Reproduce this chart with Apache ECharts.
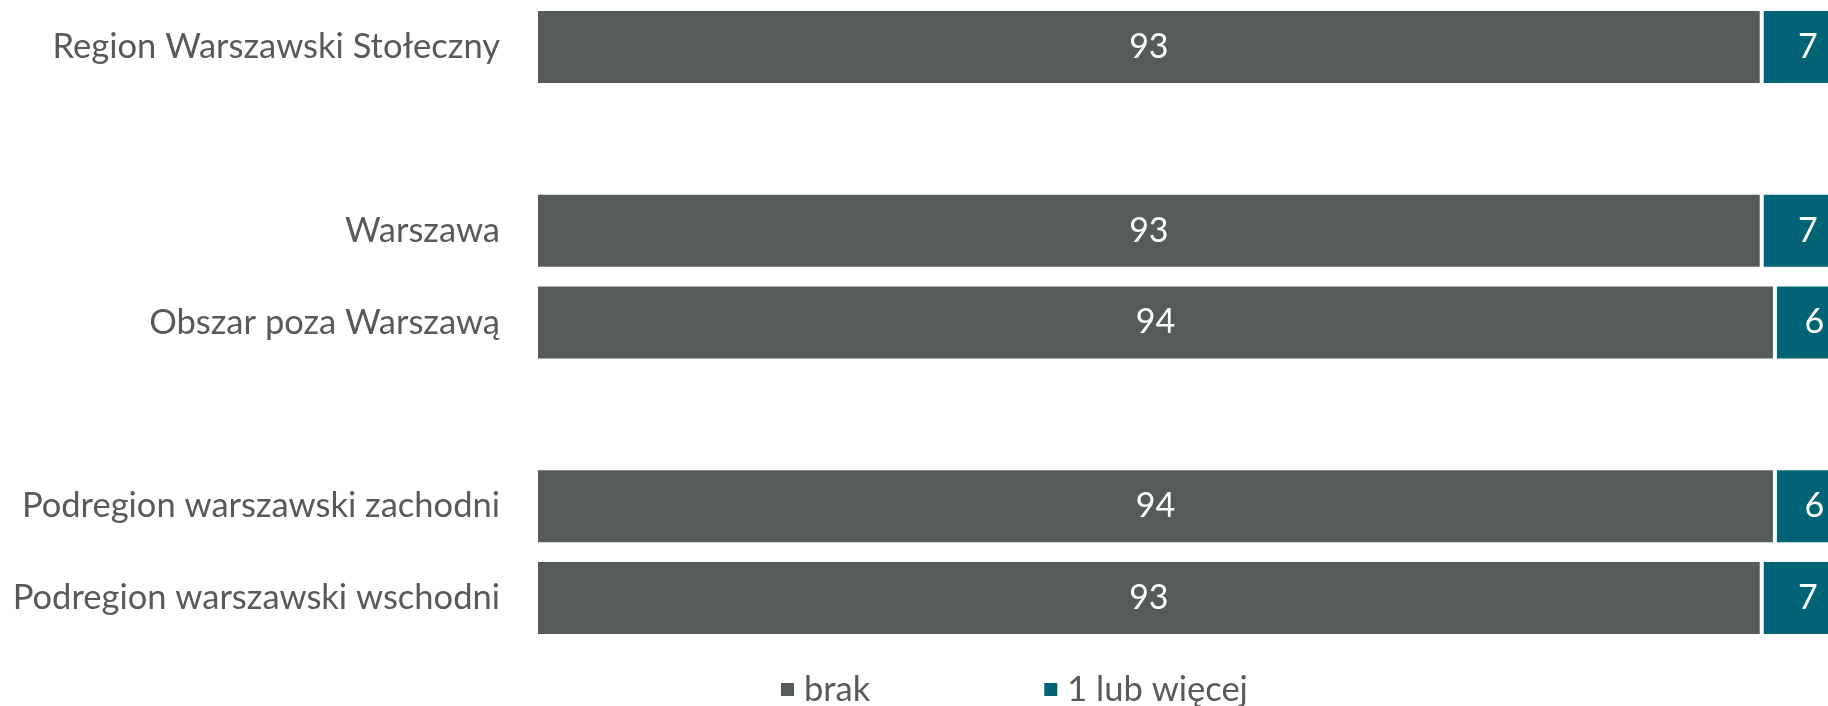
<!DOCTYPE html>
<html>
<head>
<meta charset="utf-8">
<script src="https://cdn.jsdelivr.net/npm/echarts@6/dist/echarts.min.js"></script>
<style>
  html, body { margin: 0; padding: 0; background: #ffffff; }
  #chart { width: 1828px; height: 706px; }
</style>
</head>
<body>
<div id="chart"></div>
<script>
// Regions, top to bottom; empty strings leave a gap between the groups
const categories = [
  'Region Warszawski Stołeczny',
  '',
  'Warszawa',
  'Obszar poza Warszawą',
  '',
  'Podregion warszawski zachodni',
  'Podregion warszawski wschodni'
];
const seriesNames = ['brak', '1 lub więcej'];
const brak = [93, null, 93, 94, null, 94, 93];
const jedenLubWiecej = [7, null, 7, 6, null, 6, 7];

const FONT = 'Lato, "Noto Sans", sans-serif';
const TEXT = '#595959';
const colors = ['#555a5a', '#006376'];

const chart = echarts.init(document.getElementById('chart'), null, { renderer: 'canvas' });

function barSeries(name, data, color) {
  return {
    name: name,
    type: 'bar',
    stack: 'total',
    data: data,
    barWidth: 76,
    itemStyle: { color: color, borderColor: '#ffffff', borderWidth: 2 },
    label: {
      show: true,
      position: 'inside',
      color: '#ffffff',
      fontFamily: FONT,
      fontSize: 34,
      formatter: p => (p.value == null ? '' : String(p.value))
    },
    emphasis: { disabled: true }
  };
}

chart.setOption({
  animation: false,
  backgroundColor: '#ffffff',
  // the plot runs past the right edge of the canvas, so the last segment is cut off
  grid: { left: 536, top: 1, width: 1318, height: 643, outerBoundsMode: 'none' },
  xAxis: {
    type: 'value',
    min: 0,
    max: 100,
    show: false
  },
  yAxis: {
    type: 'category',
    data: categories,
    inverse: true,
    axisLine: { show: false },
    axisTick: { show: false },
    axisLabel: {
      color: TEXT,
      fontFamily: FONT,
      fontSize: 34.5,
      margin: 36
    }
  },
  legend: {
    data: seriesNames,
    left: 779,
    top: 672,
    padding: 0,
    itemWidth: 15,
    itemHeight: 15,
    itemGap: 172,
    icon: 'rect',
    textStyle: { color: TEXT, fontFamily: FONT, fontSize: 34.5, padding: [0, 0, 0, 4] }
  },
  series: [
    barSeries(seriesNames[0], brak, colors[0]),
    barSeries(seriesNames[1], jedenLubWiecej, colors[1])
  ]
});
</script>
</body>
</html>
